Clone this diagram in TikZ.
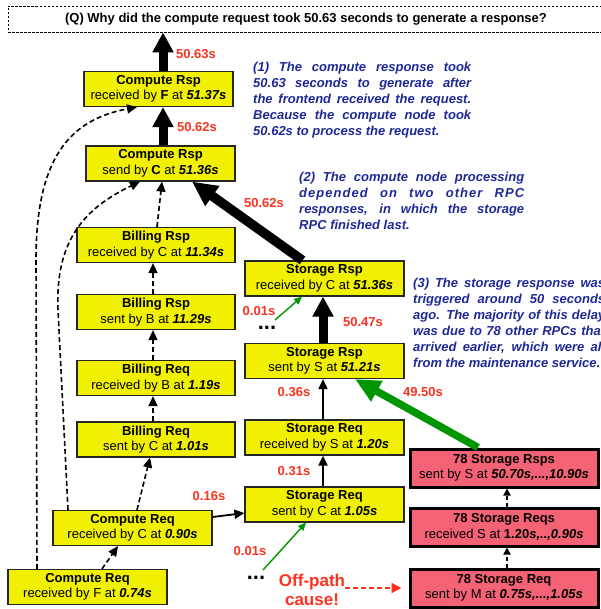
\documentclass[tikz,border=0pt]{standalone}
\usepackage{fontspec}
\setmainfont{Liberation Sans}
\usetikzlibrary{arrows.meta,calc}
\definecolor{boxyellow}{RGB}{240,240,0}
\definecolor{boxred}{RGB}{244,99,117}
\definecolor{labred}{RGB}{250,50,30}
\definecolor{noteblue}{RGB}{30,40,150}
\definecolor{pathgreen}{RGB}{0,150,0}
\newcommand{\bitx}[1]{\textbf{\textit{#1}}}
\newcommand{\jline}[2]{\makebox[#1][s]{#2}}
\tikzset{
  ybox/.style={draw=black!85, line width=1.2pt, fill=boxyellow, align=center,
    inner sep=0pt, minimum height=35pt, font=\fontsize{13}{15.5}\selectfont},
  rbox/.style={draw=black, line width=3pt, fill=boxred, align=center,
    inner sep=0pt, minimum width=188pt, minimum height=38pt, font=\fontsize{13}{15.5}\selectfont},
  lab/.style={text=labred, inner sep=0pt, font=\fontsize{13}{15}\selectfont\bfseries},
  note/.style={text=noteblue, inner sep=0pt, align=left, anchor=west,
    font=\fontsize{13}{16}\selectfont\bfseries\itshape},
  dots/.style={inner sep=0pt, font=\fontsize{22}{22}\selectfont\bfseries},
  bigarrow/.style={line width=9pt, -{Triangle[length=20pt,width=20pt]}},
  hugearrow/.style={line width=9.5pt, -{Triangle[length=25pt,width=23pt]}},
  greenarrow/.style={draw=pathgreen, line width=7.5pt, -{Triangle[length=25pt,width=22pt]}},
  thinarrow/.style={line width=1.8pt, -{Triangle[length=10pt,width=9pt]}},
  dasharrow/.style={line width=1.6pt, dash pattern=on 5pt off 3pt, -{Triangle[length=10pt,width=9pt]}},
  smalldash/.style={line width=1.8pt, dash pattern=on 4pt off 3pt, -{Triangle[length=7pt,width=7pt]}},
  greenthin/.style={draw=pathgreen, line width=1.4pt, -{Triangle[length=8pt,width=7pt]}},
  reddash/.style={draw=labred, line width=1.8pt, dash pattern=on 5pt off 3pt, -{Triangle[length=10pt,width=10pt]}, shorten >=7pt}
}
\begin{document}
\begin{tikzpicture}[x=1pt,y=-1pt]
\useasboundingbox (0,0) rectangle (600,609);

% question box
\node[draw, line width=0.8pt, dash pattern=on 2.5pt off 1.5pt, minimum width=596pt, minimum height=26pt,
  inner sep=0pt, font=\fontsize{13}{15}\selectfont\bfseries] (q) at (306,19)
  {(Q) Why did the compute request took 50.63 seconds to generate a response?};

% yellow boxes
\node[ybox, minimum width=149pt] (n1) at (158.5,89) {\textbf{Compute Rsp}\\received by \textbf{F} at \bitx{51.37s}};
\node[ybox, minimum width=149pt] (n2) at (160.5,163.5) {\textbf{Compute Rsp}\\send by \textbf{C} at \bitx{51.36s}};
\node[ybox, minimum width=158pt] (n3) at (156,245) {\textbf{Billing Rsp}\\received by C at \bitx{11.34s}};
\node[ybox, minimum width=158pt] (n4) at (156,312) {\textbf{Billing Rsp}\\sent by B at \bitx{11.29s}};
\node[ybox, minimum width=158pt] (n5) at (156,378) {\textbf{Billing Req}\\received by B at \bitx{1.19s}};
\node[ybox, minimum width=158pt] (n6) at (156,439.5) {\textbf{Billing Req}\\sent by C at \bitx{1.01s}};
\node[ybox, minimum width=159pt] (n7) at (132.5,528) {\textbf{Compute Req}\\received by C at \bitx{0.90s}};
\node[ybox, minimum width=159pt] (n8) at (87.5,587) {\textbf{Compute Req}\\received by F at \bitx{0.74s}};
\node[ybox, minimum width=159pt] (n9) at (324.5,278.5) {\textbf{Storage Rsp}\\received by C at \bitx{51.36s}};
\node[ybox, minimum width=159pt] (n10) at (324.5,361) {\textbf{Storage Rsp}\\sent by S at \bitx{51.21s}};
\node[ybox, minimum width=159pt] (n11) at (324.5,437.5) {\textbf{Storage Req}\\received by S at \bitx{1.20s}};
\node[ybox, minimum width=159pt] (n12) at (324.5,504.5) {\textbf{Storage Req}\\sent by C at \bitx{1.05s}};

% red boxes
\node[rbox] (n13) at (504,468) {\textbf{78 Storage Rsps}\\sent by S at \bitx{50.70s,...,10.90s}};
\node[rbox] (n14) at (504,527) {\textbf{78 Storage Reqs}\\received S at \textbf{1.20}\bitx{s,..,0.90s}};
\node[rbox] (n15) at (504,588) {\textbf{78 Storage Req}\\sent by M at \bitx{0.75s,...,1.05s}};

% notes
\node[note] (t1) at (253,100) {\jline{218pt}{(1) The compute response took}\\
  \jline{218pt}{50.63 seconds to generate after}\\
  \jline{218pt}{the frontend received the request.}\\
  \jline{218pt}{Because the compute node took}\\
  50.62s to process the request.};
\node[note] (t2) at (299,200.5) {\jline{225pt}{(2) The compute node processing}\\
  {\addfontfeature{LetterSpace=8}\jline{225pt}{depended on two other RPC}}\\
  \jline{225pt}{responses, in which the storage}\\
  RPC finished last.};
\node[note] (t3) at (413,322.5) {\jline{192pt}{(3) The storage response was}\\
  \jline{192pt}{triggered around 50 seconds}\\
  \jline{192pt}{ago. The majority of this delay}\\
  \jline{192pt}{was due to 78 other RPCs that}\\
  \jline{192pt}{arrived earlier, which were all}\\
  from the maintenance service.};

% red labels
\node[lab] (l1) at (196,54) {50.63s};
\node[lab] (l2) at (197,127) {50.62s};
\node[lab] (l3) at (264,203) {50.62s};
\node[lab] (l4) at (259,311) {0.01s};
\node[lab] (l5) at (363,322) {50.47s};
\node[lab] (l6) at (294,392) {0.36s};
\node[lab] (l7) at (423,392) {49.50s};
\node[lab] (l8) at (294,471) {0.31s};
\node[lab] (l9) at (209,496) {0.16s};
\node[lab] (l10) at (250,551) {0.01s};
\node[text=labred, inner sep=0pt, align=center, font=\fontsize{17}{19}\selectfont\bfseries] (off) at (312,590) {Off-path\\cause!};

% ellipses
\node[dots] (d1) at (267,328) {...};
\node[dots] (d2) at (256,578) {...};

% thick critical path
\draw[bigarrow] ([xshift=4.5pt]n1.north) -- ([xshift=4.5pt]n1.north |- q.south);
\draw[bigarrow] ([xshift=2.5pt]n2.north) -- ([xshift=4.5pt]n1.south);
\draw[hugearrow] ([xshift=-22pt]n9.north) -- ([xshift=31.5pt]n2.south);
\draw[bigarrow] ([xshift=-1.5pt]n10.north) -- ([xshift=-1.5pt]n9.south);
\draw[greenarrow] ([xshift=-26pt]n13.north) -- ([xshift=30.5pt]n10.south);

% thin solid
\draw[thinarrow] ([xshift=-1.5pt]n11.north) -- ([xshift=-1.5pt]n10.south);
\draw[thinarrow] ([xshift=-1.5pt]n12.north) -- ([xshift=-1.5pt]n11.south);
\draw[thinarrow] ([yshift=11pt]n7.east) -- ([yshift=-8.5pt]n12.west);

% dashed billing chain
\draw[dasharrow] ([xshift=14.5pt]n8.north) -- ([xshift=-14.5pt]n7.south);
\draw[dasharrow] ([xshift=4.5pt]n7.north) -- ([xshift=-6pt]n6.north |- n6.south);
\draw[dasharrow] ([xshift=-3pt]n6.north) -- ([xshift=-3pt]n5.south);
\draw[dasharrow] ([xshift=-3pt]n5.north) -- ([xshift=-3pt]n4.south);
\draw[dasharrow] ([xshift=-3pt]n4.north) -- ([xshift=-3pt]n3.south);
\draw[dasharrow] ([xshift=1pt]n3.north) -- ([xshift=1.5pt]n2.south);

% dashed curved arrows
\draw[dasharrow] ([xshift=-64.5pt]n7.north) -- (58,310) .. controls (55,240) and (85,208) .. ([xshift=-20.5pt]n2.south);
\draw[dasharrow] ([xshift=-50.5pt]n8.north) -- (36,260) .. controls (36,160) and (68,120) .. ([xshift=-21.5pt]n1.south);

% green thin
\draw[greenthin] (275,320) -- ([xshift=-22.5pt]n9.south);
\draw[greenthin] (263,570) -- ([xshift=-18.5pt]n12.south);

% red boxes chain
\draw[smalldash] ([xshift=3pt]n15.north) -- ([xshift=3pt]n14.south);
\draw[smalldash] ([xshift=3pt]n14.north) -- ([xshift=3pt]n13.south);
\draw[reddash] (n15.west -| off.east) -- (n15.west);
\end{tikzpicture}
\end{document}
